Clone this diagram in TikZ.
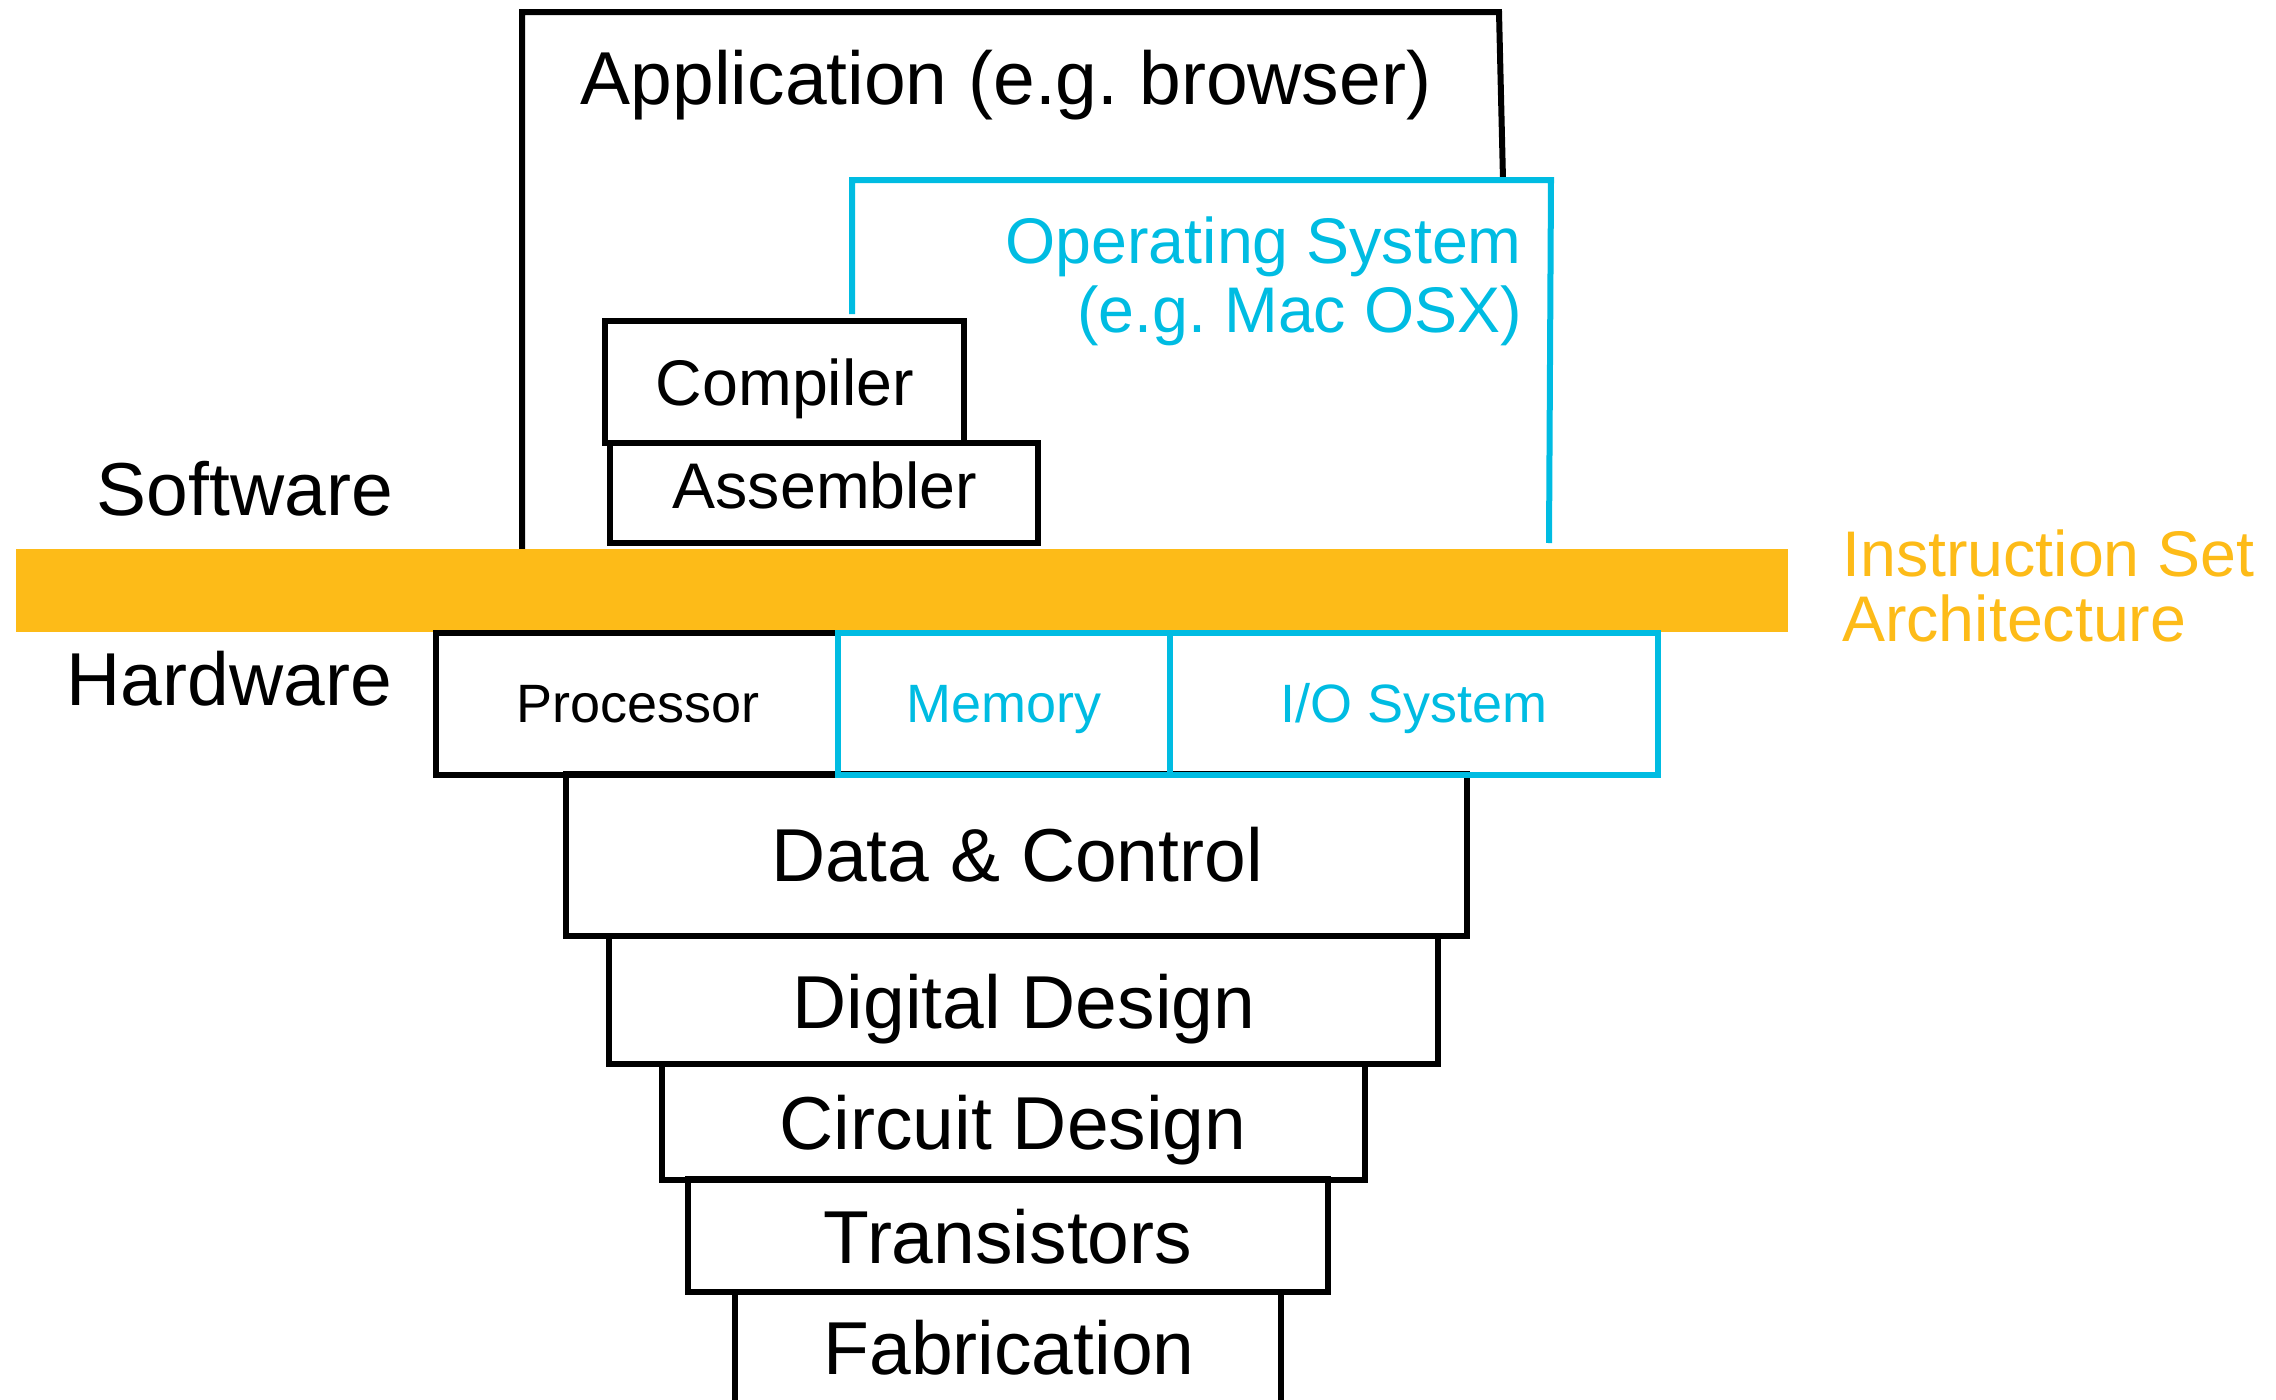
\documentclass[tikz,border=0pt]{standalone}
\usepackage{fontspec}
\setmainfont{Liberation Sans}
\frenchspacing
\definecolor{isaorange}{RGB}{253,187,24}
\definecolor{oscyan}{RGB}{0,188,226}
\newcommand\FontBig{\fontsize{75}{82}\selectfont}
\newcommand\FontMid{\fontsize{64.5}{70}\selectfont}
\newcommand\FontSmall{\fontsize{54}{60}\selectfont}
\begin{document}
\begin{tikzpicture}[x=1pt,y=-1pt,
  blk/.style={draw=black,line width=6pt,inner sep=0pt,outer sep=0pt,anchor=north west},
  cyblk/.style={blk,draw=oscyan},
  lbl/.style={inner sep=0pt,anchor=base}]
\useasboundingbox (0,0) rectangle (2276,1400);
\clip (0,0) rectangle (2276,1400);

% Application frame
\draw[line width=6pt] (522,549) -- (522,12) -- (1499,12) -- (1503,180);
\node[lbl,font=\FontBig] (app) at (1006,104) {Application (e.g. browser)};

% Operating system frame
\draw[oscyan,line width=6pt] (852,314) -- (852,180) -- (1551,180) -- (1549,543);
\node[lbl,anchor=base east,font=\FontMid,text=oscyan] (os1) at (1522,263) {Operating System};
\node[lbl,anchor=base east,font=\FontMid,text=oscyan] (os2) at (1522,332) {(e.g. Mac OSX)};

% Compiler / Assembler
\node[blk,minimum width=428pt,minimum height=100pt] (asmbox) at (610,443) {};
\node[blk,minimum width=359pt,minimum height=122pt] (compbox) at (605,321) {};
\node[lbl,font=\FontMid] (comp) at (785,405) {Compiler};
\node[lbl,font=\FontMid] (asm) at (825,508) {Assembler};

% ISA bar
\node[fill=isaorange,inner sep=0pt,outer sep=0pt,minimum width=1772pt,minimum height=83pt,anchor=north west] (isa) at (16,549) {};
\node[lbl,anchor=base west,font=\FontMid,text=isaorange] (isa1) at (1842,576) {Instruction Set};
\node[lbl,anchor=base west,font=\FontMid,text=isaorange] (isa2) at (1842,641) {Architecture};

% Side labels
\node[lbl,anchor=base east,font=\FontBig] (sw) at (393,515) {Software};
\node[lbl,anchor=base east,font=\FontBig] (hw) at (392,705) {Hardware};

% Lower stack
\node[blk,minimum width=546pt,minimum height=150pt] (fabbox) at (735,1292) {};
\node[blk,minimum width=640pt,minimum height=113pt] (trbox) at (688,1179) {};
\node[blk,minimum width=703pt,minimum height=116pt] (cdbox) at (662,1064) {};
\node[blk,minimum width=829pt,minimum height=128pt] (ddbox) at (609,936) {};
\node[blk,minimum width=901pt,minimum height=162pt] (dcbox) at (566,774) {};

% Hardware row
\node[blk,minimum width=402pt,minimum height=142pt] (procbox) at (436,633) {};
\node[cyblk,minimum width=332pt,minimum height=142pt] (membox) at (838,633) {};
\node[cyblk,minimum width=488pt,minimum height=142pt] (iobox) at (1170,633) {};
\node[lbl,font=\FontSmall] (proc) at (638,722) {Processor};
\node[lbl,font=\FontSmall,text=oscyan] (mem) at (1004,722) {Memory};
\node[lbl,font=\FontSmall,text=oscyan] (io) at (1414,722) {I/O System};

\node[lbl,font=\FontBig] (dc) at (1017,881) {Data \& Control};
\node[lbl,font=\FontBig] (dd) at (1024,1028) {Digital Design};
\node[lbl,font=\FontBig] (cd) at (1013,1149) {Circuit Design};
\node[lbl,font=\FontBig] (tr) at (1008,1263) {Transistors};
\node[lbl,font=\FontBig] (fab) at (1009,1374) {Fabrication};
\end{tikzpicture}
\end{document}
